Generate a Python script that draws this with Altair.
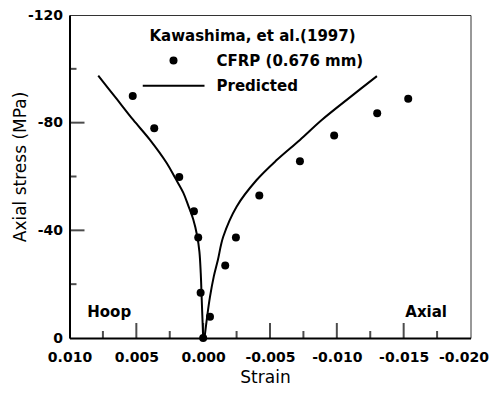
import altair as alt
import pandas as pd

# ---------------- data ----------------
# Experimental points: Kawashima et al. (1997), CFRP (0.676 mm)
cfrp_strain = [0.00527, 0.00366, 0.00179, 0.00069, 0.00037, 0.00019, 0.0000,
               -0.00051, -0.00165, -0.00245, -0.00420, -0.00724, -0.00980,
               -0.01302, -0.01534]
cfrp_stress = [-89.9, -77.9, -59.8, -47.1, -37.3, -16.8, 0.0,
               -7.9, -26.9, -37.3, -52.9, -65.7, -75.2,
               -83.5, -88.9]

# Predicted curve, hoop branch
hoop_strain = [0.0, 0.00006, 0.00012, 0.00018, 0.00028, 0.00045, 0.00074,
               0.00110, 0.00149, 0.00210, 0.00273, 0.00398, 0.00523,
               0.00650, 0.00785]
hoop_stress = [0.0, -8.0, -16.0, -24.0, -32.0, -38.0, -44.0,
               -49.0, -54.0, -59.5, -65.0, -73.6, -81.0,
               -89.0, -97.5]

# Predicted curve, axial branch
axial_strain = [-0.0001, -0.0003, -0.0005, -0.0008, -0.0011, -0.0015,
                -0.0025, -0.0040, -0.0055, -0.00724, -0.00887, -0.0110,
                -0.0130]
axial_stress = [0.0, -8.0, -15.0, -23.0, -29.0, -37.6,
                -48.8, -58.7, -66.1, -73.6, -81.0, -89.5,
                -97.3]

series_names = ["CFRP (0.676 mm)", "Predicted"]
legend_title = "Kawashima, et al.(1997)"

# axis labels and inward ticks
x_label_values = [0.010, 0.005, 0.000, -0.005, -0.010, -0.015, -0.020]
y_label_values = [0, -40, -80, -120]
x_major_ticks = [0.005, 0.000, -0.005, -0.010, -0.015]
x_minor_ticks = [0.0075, 0.0025, -0.0025, -0.0075, -0.0125, -0.0175]
y_major_ticks = [-40, -80]
y_minor_ticks = [-20, -60, -100]

# annotations
annot_text = ["Hoop", "Axial"]
annot_strain = [0.00703, -0.01668]
annot_stress = [-7.8, -7.8]

# ---------------- tables ----------------
pts = pd.DataFrame({"strain": cfrp_strain, "stress": cfrp_stress,
                    "series": series_names[0]})
pred = pd.concat([
    pd.DataFrame({"strain": hoop_strain, "stress": hoop_stress,
                  "branch": "hoop", "idx": range(len(hoop_strain))}),
    pd.DataFrame({"strain": axial_strain, "stress": axial_stress,
                  "branch": "axial", "idx": range(len(axial_strain))}),
], ignore_index=True)
xmaj = pd.DataFrame({"strain": x_major_ticks, "stress": 0.0})
xmin = pd.DataFrame({"strain": x_minor_ticks, "stress": 0.0})
ymaj = pd.DataFrame({"strain": 0.010, "stress": y_major_ticks})
ymin = pd.DataFrame({"strain": 0.010, "stress": y_minor_ticks})
ann = pd.DataFrame({"strain": annot_strain, "stress": annot_stress,
                    "label": annot_text})

FONT = "DejaVu Sans"

x_scale = alt.Scale(domain=[-0.020, 0.010], reverse=True, nice=False, zero=False)
y_scale = alt.Scale(domain=[0, -120], nice=False, zero=False)

last_label_test = "datum.value < -0.0195"

x_axis = alt.Axis(
    values=x_label_values,
    labelExpr="(datum.value < 0 ? '-' : '') + format(abs(datum.value), '.3f')",
    ticks=False, tickSize=0, grid=False,
    labelFont=FONT, labelFontSize=14, labelFontWeight="bold", labelColor="black",
    labelPadding=12, labelFlush=False,
    labelAlign={"condition": {"test": last_label_test, "value": "right"},
                "value": "center"},
    labelOffset={"condition": {"test": last_label_test, "value": 18},
                 "value": 0},
    labelOverlap=False, labelBound=False,
    domainColor="black", domainWidth=2,
    title="Strain", titleFont=FONT, titleFontSize=17, titleFontWeight="normal",
    titleColor="black", titleX=195.5, titleY=44, titleAlign="center",
    titleBaseline="alphabetic",
)
y_axis = alt.Axis(
    values=y_label_values,
    labelExpr="(datum.value < 0 ? '-' : '') + format(abs(datum.value), 'd')",
    ticks=False, tickSize=0, grid=False,
    labelFont=FONT, labelFontSize=14, labelFontWeight="bold", labelColor="black",
    labelPadding=7, labelFlush=False, labelOverlap=False, labelBound=False,
    domainColor="black", domainWidth=2,
    title="Axial stress (MPa)", titleFont=FONT, titleFontSize=17,
    titleFontWeight="normal", titleColor="black", titleAngle=270,
    titleX=-49.5, titleY=151.5, titleAlign="center", titleBaseline="middle",
)


def xe():
    return alt.X("strain:Q", scale=x_scale, axis=x_axis)


def ye():
    return alt.Y("stress:Q", scale=y_scale, axis=y_axis)


legend = alt.Legend(
    title=legend_title, orient="none", legendX=73, legendY=14, padding=0,
    titleFont=FONT, titleFontSize=15, titleFontWeight="bold", titleColor="black",
    titleAnchor="middle", titleLimit=400, titlePadding=9,
    labelFont=FONT, labelFontSize=15, labelFontWeight="bold", labelColor="black",
    labelLimit=400, labelOffset=12, rowPadding=9.3, clipHeight=15,
    symbolFillColor="black", symbolStrokeWidth=0, symbolOpacity=1,
)

# legend glyph for the predicted line: a thin horizontal bar
line_path = "M-1,-0.03L1,-0.03L1,0.03L-1,0.03Z"

tick_x_major = alt.Chart(xmaj).mark_tick(
    orient="vertical", size=15, thickness=2, color="black", yOffset=-7.5
).encode(x=xe(), y=ye())
tick_x_minor = alt.Chart(xmin).mark_tick(
    orient="vertical", size=7, thickness=2, color="black", yOffset=-3.5
).encode(x=xe(), y=ye())
tick_y_major = alt.Chart(ymaj).mark_tick(
    orient="horizontal", size=15, thickness=2, color="black", xOffset=7.5
).encode(x=xe(), y=ye())
tick_y_minor = alt.Chart(ymin).mark_tick(
    orient="horizontal", size=7, thickness=2, color="black", xOffset=3.5
).encode(x=xe(), y=ye())

lines = alt.Chart(pred).mark_line(
    color="black", strokeWidth=2, interpolate="catmull-rom"
).encode(x=xe(), y=ye(), detail="branch:N", order="idx:Q")

points = alt.Chart(pts).mark_point(
    filled=True, color="black", opacity=1
).encode(
    x=xe(), y=ye(),
    shape=alt.Shape("series:N",
                    scale=alt.Scale(domain=series_names, range=["circle", line_path]),
                    legend=legend),
    size=alt.Size("series:N",
                  scale=alt.Scale(domain=series_names, range=[64, 3844]),
                  legend=legend),
)

texts = alt.Chart(ann).mark_text(
    font=FONT, fontSize=15, fontWeight="bold", color="black",
    align="center", baseline="alphabetic"
).encode(x=xe(), y=ye(), text="label:N")

chart = alt.layer(
    tick_x_major, tick_x_minor, tick_y_major, tick_y_minor, lines, points, texts
).properties(
    width=401, height=323,
    padding={"left": 61.5, "top": 7, "right": 18.5, "bottom": 47},
    autosize=alt.AutoSizeParams(type="none"),
).configure_view(stroke="#333333", strokeWidth=1)

chart.save("out.html", embed_options={"renderer": "svg", "actions": False})
